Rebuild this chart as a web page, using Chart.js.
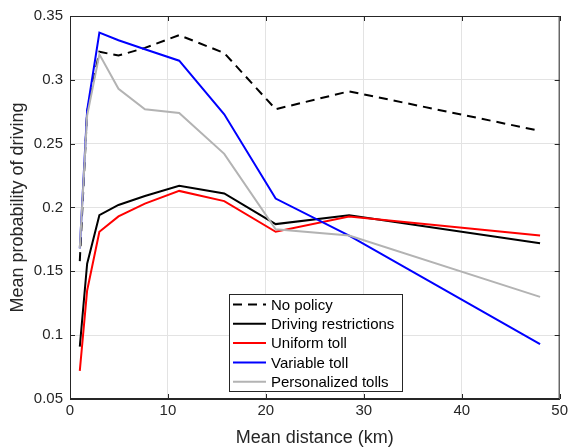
<!DOCTYPE html>
<html>
<head>
<meta charset="utf-8">
<script src="https://cdn.jsdelivr.net/npm/chart.js@4"></script>
<style>
  html, body { margin: 0; padding: 0; background: #fff; }
  #wrap { width: 571px; height: 448px; position: relative; }
</style>
</head>
<body>
<div id="wrap"><canvas id="probChart" width="571" height="448"></canvas></div>
<script>
// Mean distance (km) for each point
const distance = [1.0, 1.75, 3.0, 4.95, 7.65, 11.15, 15.75, 21.0, 28.5, 48.0];

// Mean probability of driving per policy
const noPolicy      = [0.158, 0.275, 0.322, 0.319, 0.325, 0.335, 0.321, 0.277, 0.291, 0.260];
const drivingRestr  = [0.091, 0.156, 0.194, 0.202, 0.209, 0.217, 0.211, 0.187, 0.194, 0.172];
const uniformToll   = [0.072, 0.135, 0.181, 0.193, 0.203, 0.213, 0.205, 0.181, 0.193, 0.178];
const variableToll  = [0.168, 0.276, 0.337, 0.331, 0.324, 0.315, 0.273, 0.207, 0.178, 0.093];
const personalized  = [0.168, 0.272, 0.320, 0.293, 0.277, 0.274, 0.242, 0.183, 0.178, 0.130];

const seriesNames  = ['No policy', 'Driving restrictions', 'Uniform toll', 'Variable toll', 'Personalized tolls'];
const seriesValues = [noPolicy, drivingRestr, uniformToll, variableToll, personalized];
const seriesColors = ['#000000', '#000000', '#ff0000', '#0000ff', '#b3b3b3'];
const seriesDash   = [[9, 6], [], [], [], []];

const xTicks = [0, 10, 20, 30, 40, 50];
const yTicks = [0.05, 0.1, 0.15, 0.2, 0.25, 0.3, 0.35];

const FONT = 'Liberation Sans, Arial, Helvetica, sans-serif';
const AXIS = '#262626';

// build datasets, later series drawn on top like matlab
const datasets = seriesValues.map((vals, i) => ({
  label: seriesNames[i],
  data: vals.map((v, k) => ({ x: distance[k], y: v })),
  borderColor: seriesColors[i],
  borderDash: seriesDash[i],
  borderWidth: 2,
  pointRadius: 0,
  tension: 0,
  fill: false,
  order: seriesNames.length - i
}));

// box, inward ticks and the legend
const matlabBox = {
  id: 'matlabBox',
  afterDraw(chart) {
    const ctx = chart.ctx;
    const a = chart.chartArea;
    const xs = chart.scales.x, ys = chart.scales.y;
    ctx.save();
    ctx.strokeStyle = AXIS;
    ctx.lineWidth = 1;
    ctx.strokeRect(a.left + 0.5, a.top + 0.5, a.right - a.left - 1, a.bottom - a.top - 1);
    ctx.beginPath();
    xTicks.forEach(t => {
      const px = Math.round(xs.getPixelForValue(t)) + 0.5;
      ctx.moveTo(px, a.bottom); ctx.lineTo(px, a.bottom - 5);
      ctx.moveTo(px, a.top); ctx.lineTo(px, a.top + 5);
    });
    yTicks.forEach(t => {
      const py = Math.round(ys.getPixelForValue(t)) + 0.5;
      ctx.moveTo(a.left, py); ctx.lineTo(a.left + 5, py);
      ctx.moveTo(a.right, py); ctx.lineTo(a.right - 5, py);
    });
    ctx.stroke();

    // legend
    const bx = 229.5, by = 294.5, bw = 173, bh = 97;
    ctx.fillStyle = '#fff';
    ctx.fillRect(bx, by, bw, bh);
    ctx.strokeStyle = AXIS;
    ctx.strokeRect(bx, by, bw, bh);
    ctx.font = '15px ' + FONT;
    ctx.textBaseline = 'middle';
    seriesNames.forEach((name, i) => {
      const y = 304.5 + i * 19.3;
      ctx.beginPath();
      ctx.strokeStyle = seriesColors[i];
      ctx.lineWidth = 2;
      ctx.setLineDash(seriesDash[i]);
      ctx.moveTo(233, y); ctx.lineTo(266, y);
      ctx.stroke();
      ctx.setLineDash([]);
      ctx.fillStyle = '#000';
      ctx.fillText(name, 271, y + 1);
    });
    ctx.restore();
  }
};

new Chart(document.getElementById('probChart').getContext('2d'), {
  type: 'line',
  data: { datasets: datasets },
  options: {
    responsive: false,
    animation: false,
    layout: { padding: { top: 13, right: 10, left: 0, bottom: 0 } },
    plugins: { legend: { display: false }, tooltip: { enabled: false } },
    scales: {
      x: {
        type: 'linear',
        min: 0, max: 50,
        afterFit: s => { s.height = 49; },
        afterBuildTicks: s => { s.ticks = xTicks.map(v => ({ value: v })); },
        ticks: { color: AXIS, font: { size: 15, family: FONT }, padding: 3, maxRotation: 0 },
        grid: { color: '#e3e3e3', drawTicks: false },
        border: { display: true, color: AXIS },
        title: {
          display: true, text: 'Mean distance (km)', color: AXIS,
          font: { size: 18, family: FONT, lineHeight: 1 }, padding: { top: 0, bottom: 1 }
        }
      },
      y: {
        type: 'linear',
        min: 0.05, max: 0.35,
        afterFit: s => { s.width = 70; },
        afterBuildTicks: s => { s.ticks = yTicks.map(v => ({ value: v })); },
        ticks: {
          color: AXIS, font: { size: 15, family: FONT }, padding: 7,
          callback: v => String(+v.toFixed(2))
        },
        grid: { color: '#e3e3e3', drawTicks: false },
        border: { display: true, color: AXIS },
        title: {
          display: true, text: 'Mean probability of driving', color: AXIS,
          font: { size: 18, family: FONT, lineHeight: 1 }, padding: { top: 9, bottom: 0 }
        }
      }
    }
  },
  plugins: [matlabBox]
});
</script>
</body>
</html>
